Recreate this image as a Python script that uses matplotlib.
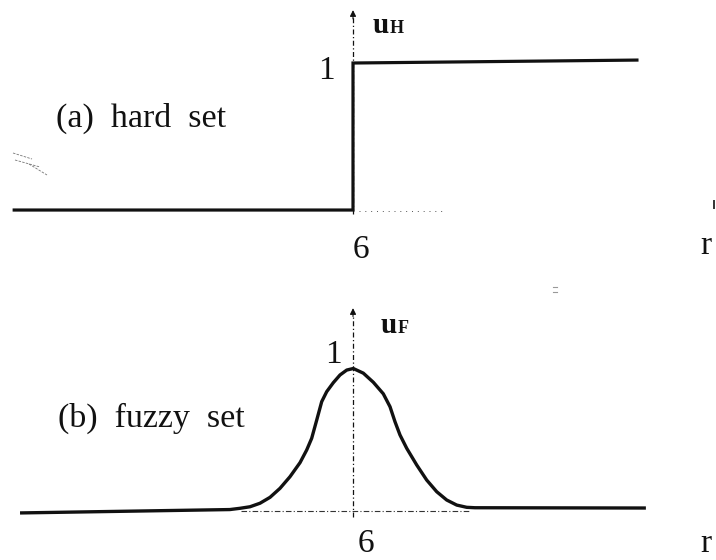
import matplotlib
matplotlib.use("Agg")
import matplotlib.pyplot as plt
from matplotlib.lines import Line2D

# ---- data -------------------------------------------------------------
center_r = 6.0

# hard (crisp) set: membership 0 below r = 6, 1 above
hard_r = [-0.05, 6.0, 6.0, 11.07]
hard_u = [0.0, 0.0, 1.0, 1.02]

# fuzzy set: bell-shaped membership
fuzzy_r = [0.054, 3.800, 3.982, 4.161, 4.339, 4.518, 4.696, 4.875, 5.054,
           5.173, 5.262, 5.352, 5.441, 5.530, 5.648, 5.768, 5.888, 6.005,
           6.184, 6.363, 6.541, 6.661, 6.750, 6.839, 6.959, 7.138, 7.316,
           7.495, 7.673, 7.852, 8.030, 8.179, 11.23]
fuzzy_u = [-0.028, -0.004, 0.005, 0.016, 0.041, 0.083, 0.147, 0.230, 0.330,
           0.420, 0.503, 0.633, 0.764, 0.835, 0.899, 0.954, 0.989, 1.000,
           0.967, 0.902, 0.820, 0.728, 0.621, 0.527, 0.432, 0.313, 0.206,
           0.123, 0.064, 0.028, 0.012, 0.009, 0.007]

tick_r_label = "6"
tick_u_label = "1"

# ---- figure -----------------------------------------------------------
W, H = 716, 560
fig = plt.figure(figsize=(W / 100, H / 100), dpi=100)
fig.patch.set_facecolor("white")

SERIF = "Liberation Serif"
INK = "#111111"


def px(x, y):
    """pixel position (from top-left) -> figure fraction"""
    return x / W, 1 - y / H


xlim = (-0.3036, 12.482)
ax_top = fig.add_axes([0, 0.5, 1, 0.5])
ax_bot = fig.add_axes([0, 0.0, 1, 0.5])
ax_top.set_xlim(*xlim)
ax_top.set_ylim(-0.476, 1.4286)
ax_bot.set_xlim(*xlim)
ax_bot.set_ylim(-0.363, 1.630)
for ax in (ax_top, ax_bot):
    ax.axis("off")


# membership axes (dash-dot vertical line with arrow head)
def member_axis(ax, y0, y1):
    ax.plot([center_r, center_r], [y0, y1 - 0.05], color=INK, lw=0.9,
            ls=(0, (4, 2, 1, 2)), zorder=1)
    ax.annotate("", xy=(center_r, y1), xytext=(center_r, y1 - 0.06),
                arrowprops=dict(arrowstyle="-|>", color=INK, lw=0.8,
                                mutation_scale=9, shrinkA=0, shrinkB=0))


member_axis(ax_top, -0.03, 1.36)
member_axis(ax_bot, -0.06, 1.43)

# hard set
ax_top.plot(hard_r, hard_u, color=INK, lw=2.3, solid_joinstyle="miter",
            zorder=3)
ax_top.plot([6.1, 7.6], [-0.005, -0.005], color="#555555", lw=0.7,
            ls=(0, (1, 5)), zorder=2)

# fuzzy set
ax_bot.plot([4.0, 8.1], [-0.012, -0.012], color="#333333", lw=0.8,
            ls=(0, (5, 2, 1, 2)), zorder=2)
ax_bot.plot(fuzzy_r, fuzzy_u, color=INK, lw=2.4, zorder=3,
            solid_joinstyle="round", solid_capstyle="butt")


# ---- labels -----------------------------------------------------------
def label(x, y, s, size, ha="center", va="baseline", **kw):
    fig.text(*px(x, y), s, fontsize=size, ha=ha, va=va, family=SERIF,
             color=INK, **kw)


label(56, 127, "(a)  hard  set", 24.5, ha="left")
label(58, 427, "(b)  fuzzy  set", 24.5, ha="left")

label(326, 79, tick_u_label, 24)
label(333, 363, tick_u_label, 24)
label(361, 258, tick_r_label, 24)
label(366, 552, tick_r_label, 24)

label(706, 254, "r", 24)
label(706, 552, "r", 24)

# axis names u_H / u_F
label(373, 33, "u", 21, ha="left", weight="bold")
label(390, 33, "H", 13, ha="left", weight="bold")
label(381, 333, "u", 21, ha="left", weight="bold")
label(398, 333, "F", 13, ha="left", weight="bold")

# small marks on the page
fig.add_artist(Line2D([714 / W, 714 / W], [1 - 201 / H, 1 - 208 / H],
                      color="#333333", lw=1.4))
for (x0, y0, x1, y1) in [(13, 153, 32, 159), (15, 160, 40, 167),
                         (29, 164, 47, 175)]:
    fig.add_artist(Line2D([x0 / W, x1 / W], [1 - y0 / H, 1 - y1 / H],
                          color="#777777", lw=0.6, ls=(0, (3, 1.5))))
for (x0, y0, x1, y1) in [(553, 287, 557, 287), (553, 292, 557, 292)]:
    fig.add_artist(Line2D([x0 / W, x1 / W], [1 - y0 / H, 1 - y1 / H],
                          color="#999999", lw=0.8))

fig.savefig("out.png", dpi=100, facecolor="white")
